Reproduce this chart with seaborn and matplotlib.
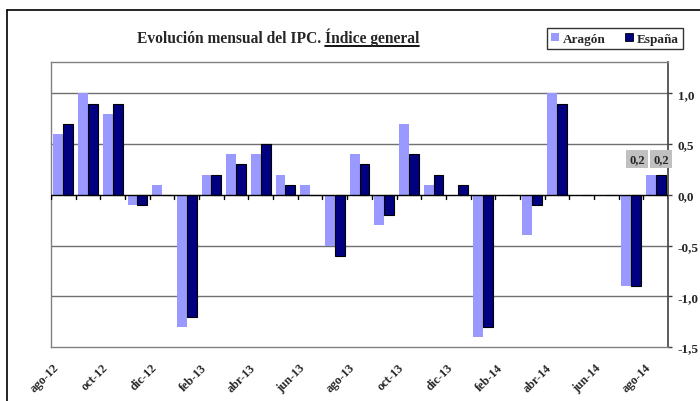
import matplotlib
matplotlib.use("Agg")
import matplotlib.pyplot as plt
import matplotlib.transforms as mtransforms
import seaborn as sns
import pandas as pd
from matplotlib.lines import Line2D
from matplotlib.ticker import FuncFormatter

meses = ['ago-12', 'sep-12', 'oct-12', 'nov-12', 'dic-12', 'ene-13', 'feb-13',
         'mar-13', 'abr-13', 'may-13', 'jun-13', 'jul-13', 'ago-13', 'sep-13',
         'oct-13', 'nov-13', 'dic-13', 'ene-14', 'feb-14', 'mar-14', 'abr-14',
         'may-14', 'jun-14', 'jul-14', 'ago-14']
aragon = [0.6, 1.0, 0.8, -0.1, 0.1, -1.3, 0.2, 0.4, 0.4, 0.2, 0.1, -0.5, 0.4,
          -0.3, 0.7, 0.1, 0.0, -1.4, 0.0, -0.4, 1.0, 0.0, 0.0, -0.9, 0.2]
espana = [0.7, 0.9, 0.9, -0.1, 0.0, -1.2, 0.2, 0.3, 0.5, 0.1, 0.0, -0.6, 0.3,
          -0.2, 0.4, 0.2, 0.1, -1.3, 0.0, -0.1, 0.9, 0.0, 0.0, -0.9, 0.2]
series = ['Aragón', 'España']
colores = ['#9999FF', '#000080']
yticks = [-1.5, -1.0, -0.5, 0.0, 0.5, 1.0]

df = pd.DataFrame({
    'mes': meses * 2,
    'valor': aragon + espana,
    'serie': [series[0]] * len(meses) + [series[1]] * len(meses),
})

sns.set_style('white')
plt.rcParams['font.family'] = ['Liberation Serif', 'DejaVu Serif']
plt.rcParams['font.weight'] = 'bold'

fig = plt.figure(figsize=(7, 4.02), dpi=100)
ax = fig.add_axes([51 / 700, 1 - 348 / 402, (668 - 51) / 700, (348 - 63) / 402])

sns.barplot(data=df, x='mes', y='valor', hue='serie', palette=colores,
            width=0.8, saturation=1, ax=ax, legend=False)

# borde negro solo en España
n = len(meses)
for i, p in enumerate(ax.patches[:2 * n]):
    if i >= n:
        p.set_edgecolor('black')
        p.set_linewidth(0.8)
    else:
        p.set_edgecolor('none')

ax.set_xlim(-0.5, n - 0.5)
ax.set_ylim(-1.5, 1.31)
ax.set_xlabel('')
ax.set_ylabel('')

# eje Y a la derecha
ax.yaxis.tick_right()
ax.set_yticks(yticks)
ax.yaxis.set_major_formatter(FuncFormatter(lambda v, p: f'{v:.1f}'.replace('.', ',')))
ax.tick_params(axis='y', direction='out', length=3, width=1, color='#404040',
               labelsize=9.5, pad=4)
for lab in ax.get_yticklabels():
    lab.set_fontweight('bold')

for v in yticks:
    if v not in (0.0, -1.5):
        ax.axhline(v, color='#707070', lw=1, zorder=0)
ax.axhline(0, color='black', lw=1, zorder=3)
for k in range(n + 1):
    ax.plot([k - 0.5, k - 0.5], [0, -0.04], color='black', lw=1, zorder=3)

# etiquetas del eje X
ax.set_xticks(range(0, n, 2))
ax.set_xticklabels(meses[::2], rotation=45, ha='right', rotation_mode='anchor',
                   fontsize=8.8, fontweight='bold')
ax.tick_params(axis='x', length=0, pad=6)
desplaza = mtransforms.ScaledTranslation(-0.11, -0.06, fig.dpi_scale_trans)
for lab in ax.get_xticklabels():
    lab.set_transform(lab.get_transform() + desplaza)

for s in ['top', 'left', 'bottom']:
    ax.spines[s].set_color('#808080')
    ax.spines[s].set_linewidth(1)
ax.spines['right'].set_color('#404040')
ax.spines['right'].set_linewidth(1.2)

# etiquetas del último mes
for p, dx in [(ax.patches[n - 1], -10), (ax.patches[2 * n - 1], 0.5)]:
    val = p.get_height()
    ax.annotate(f'{val:.1f}'.replace('.', ','),
                xy=(p.get_x() + p.get_width() / 2, p.get_y() + val),
                xytext=(dx, 11), textcoords='offset points', ha='center',
                va='center', fontsize=9, fontweight='bold',
                bbox=dict(boxstyle='square,pad=0.25', fc='#C0C0C0', ec='none'))

# leyenda
handles = [plt.Rectangle((0, 0), 1, 1, fc=c, ec='black' if i else 'none', lw=0.6)
           for i, c in enumerate(colores)]
leg = fig.legend(handles, series, loc='upper right',
                 bbox_to_anchor=(683 / 700, 1 - 29 / 402), borderaxespad=0,
                 ncol=2, frameon=True, fancybox=False, edgecolor='black',
                 handlelength=0.6, handleheight=0.6, handletextpad=0.25,
                 columnspacing=1.5, borderpad=0.35,
                 prop={'weight': 'bold', 'size': 9.5})
leg.get_frame().set_linewidth(1)

# título con parte subrayada
xt, yt = 325 / 700, 1 - 43 / 402
fig.text(xt, yt, 'Evolución mensual del IPC. ', ha='right', va='baseline',
         fontsize=11.2, fontweight='bold')
t2 = fig.text(xt, yt, 'Índice general', ha='left', va='baseline',
              fontsize=11.2, fontweight='bold')
fig.canvas.draw()
bb = t2.get_window_extent().transformed(fig.transFigure.inverted())
fig.add_artist(Line2D([bb.x0, bb.x1], [yt - 3.5 / 402, yt - 3.5 / 402],
                      color='black', lw=1.3, transform=fig.transFigure))

# marco exterior
fig.add_artist(Line2D([7 / 700, 1.0], [1 - 11 / 402, 1 - 11 / 402],
                      color='black', lw=1.2, transform=fig.transFigure))
fig.add_artist(Line2D([7 / 700, 7 / 700], [1 - 11 / 402, 0],
                      color='black', lw=1.2, transform=fig.transFigure))

fig.savefig('out.png', dpi=100)
